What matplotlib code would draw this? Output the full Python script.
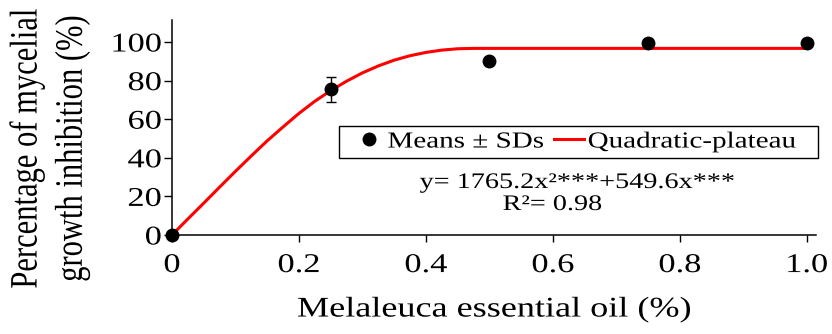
import matplotlib
matplotlib.use("Agg")
import matplotlib.pyplot as plt
from matplotlib.patheffects import AbstractPathEffect
from matplotlib.transforms import Affine2D
from matplotlib.path import Path

# Means +- SD of mycelial growth inhibition
dose = [0, 0.25, 0.5, 0.75, 1.0]
inhibition = [0, 75.5, 90.2, 99.6, 99.6]
inhibition_sd = [0, 6.4, 0, 0, 0]

# quadratic-plateau fit
curve_dose = [0, 0.025, 0.05, 0.075, 0.1, 0.125, 0.15, 0.175, 0.2, 0.225,
              0.25, 0.275, 0.3, 0.325, 0.35, 0.375, 0.4, 0.425, 0.45, 0.475, 1.0]
curve_inhibition = [0, 8.3, 16.5, 24.8, 33, 41, 48.8, 56, 63, 69.3,
                    74.8, 79.7, 84, 87.6, 90.6, 92.9, 94.6, 95.8, 96.5, 96.7, 96.7]

x_ticks = [0, 0.2, 0.4, 0.6, 0.8, 1.0]
x_tick_labels = ["0", "0.2", "0.4", "0.6", "0.8", "1.0"]
y_ticks = [0, 20, 40, 60, 80, 100]

equation = "y= 1765.2x²***+549.6x***"
r_squared = "R²= 0.98"

FONT = "Liberation Serif"
STRETCH = 1.27  # the source picture is widened horizontally


class StretchX(AbstractPathEffect):
    """Draw text wider than normal, about its left, centre or right edge."""

    def __init__(self, factor=STRETCH, anchor="center"):
        super().__init__()
        self.factor = factor
        self.anchor = anchor

    def draw_path(self, renderer, gc, tpath, affine, rgbFace=None):
        bb = affine.transform_path(tpath).get_extents()
        if self.anchor == "left":
            x0 = bb.x0
        elif self.anchor == "right":
            x0 = bb.x1
        else:
            x0 = (bb.x0 + bb.x1) / 2
        widen = Affine2D().translate(-x0, 0).scale(self.factor, 1).translate(x0, 0)
        renderer.draw_path(gc, tpath, affine + widen, rgbFace)


def legend_box(x0, y0, width, height, mutation_size):
    # frame wider than the packed entries, since the labels are drawn widened
    left = x0 - 0.42 * mutation_size
    right = x0 + width + 2.66 * mutation_size
    top = y0 + height
    return Path([(left, y0), (right, y0), (right, top), (left, top), (left, y0)],
                closed=True)


plt.rcParams["font.family"] = FONT

fig = plt.figure(figsize=(8.32, 3.34), dpi=100)
ax = fig.add_axes([0.2067, 0.2964, 0.7737, 0.6437])

ax.plot(curve_dose, curve_inhibition, color="red", lw=2.2,
        label="Quadratic-plateau", zorder=2)
ax.errorbar(dose, inhibition, yerr=inhibition_sd, fmt="none", ecolor="black",
            elinewidth=1.0, capsize=3.6, capthick=1.0, zorder=3)
ax.plot(dose, inhibition, "o", color="black", ms=9, clip_on=False,
        label="Means ± SDs", zorder=4)

ax.set_xlim(0, 1.014)
ax.set_ylim(0, 111.4)

for side in ["top", "right"]:
    ax.spines[side].set_visible(False)
for side in ["left", "bottom"]:
    ax.spines[side].set_linewidth(1.1)

ax.set_xticks(x_ticks)
ax.set_xticklabels(x_tick_labels)
ax.set_yticks(y_ticks)
ax.tick_params(axis="x", direction="out", length=5, width=1.0, pad=8,
               labelsize=19.5)
ax.tick_params(axis="y", direction="out", length=5.5, width=1.0, pad=2,
               labelsize=19.5)
for t in ax.get_xticklabels():
    t.set_path_effects([StretchX(anchor="center")])
for t in ax.get_yticklabels():
    t.set_path_effects([StretchX(anchor="right")])

xl = ax.set_xlabel("Melaleuca essential oil (%)", fontsize=20.5, labelpad=14)
xl.set_path_effects([StretchX(anchor="center")])

yl = ax.set_ylabel("Percentage of mycelial\ngrowth inhibition (%)",
                   fontsize=22, linespacing=1.7, va="center")
ax.yaxis.set_label_coords(-0.19, 0.40)
yl.set_path_effects([StretchX(anchor="center")])

handles, labels = ax.get_legend_handles_labels()
leg = ax.legend(handles[::-1], labels[::-1], ncol=2, loc="center",
                bbox_to_anchor=(553 / 832, (334 - 142) / 334),
                bbox_transform=fig.transFigure, fontsize=16.5,
                frameon=True, fancybox=False, framealpha=1, edgecolor="black",
                borderpad=0.23, handlelength=1.31, handletextpad=0.15,
                columnspacing=1.9, numpoints=1, borderaxespad=0)
leg.get_frame().set_linewidth(1.0)
leg.get_frame().set_boxstyle(legend_box)
for t in leg.get_texts():
    t.set_path_effects([StretchX(anchor="left")])

eq = fig.text(577.5 / 832, (334 - 188) / 334, equation, fontsize=16,
              ha="center", va="baseline")
eq.set_path_effects([StretchX(anchor="center")])
r2 = fig.text(552.5 / 832, (334 - 210) / 334, r_squared, fontsize=16,
              ha="center", va="baseline")
r2.set_path_effects([StretchX(anchor="center")])

fig.savefig("out.png", dpi=100)
